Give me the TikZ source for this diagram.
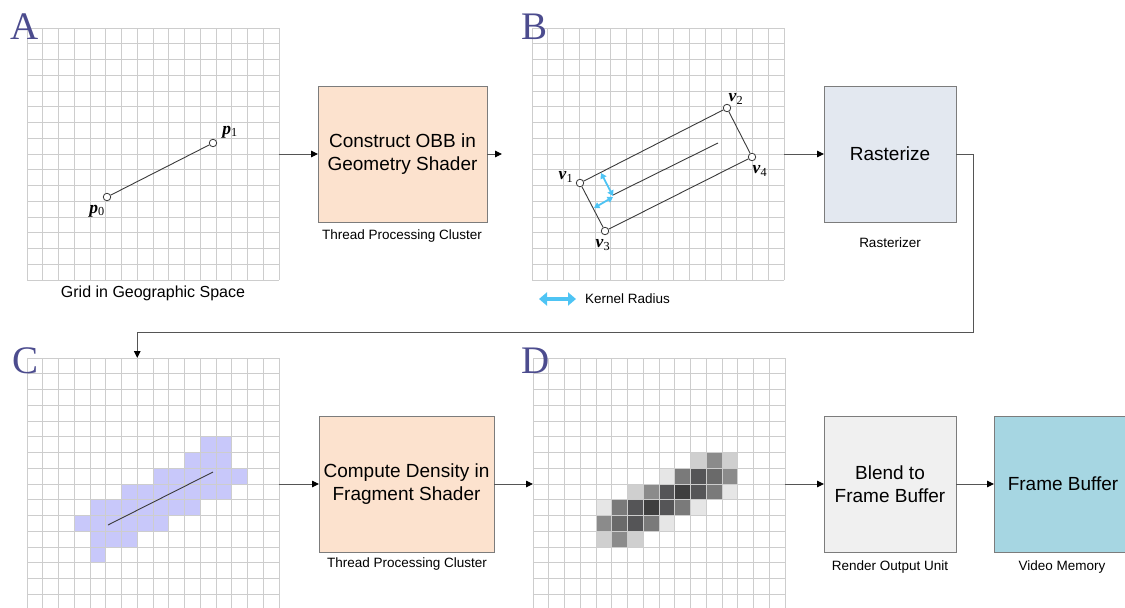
\documentclass[tikz,border=0pt]{standalone}
\usepackage{fontspec}
\setmainfont{Liberation Sans}
\newfontfamily\letterfont{Liberation Serif}
\usetikzlibrary{arrows.meta}

\definecolor{gridgray}{HTML}{CDCDCD}
\definecolor{boxborder}{HTML}{7C7C7C}
\definecolor{connline}{HTML}{555555}
\definecolor{linegray}{HTML}{3A3A3A}
\definecolor{peach}{HTML}{FCE2CE}
\definecolor{rastfill}{HTML}{E3E8F0}
\definecolor{blendfill}{HTML}{F0F0F0}
\definecolor{fbfill}{HTML}{A6D6E2}
\definecolor{purplecell}{HTML}{C8C8FA}
\definecolor{letterblue}{HTML}{4C4C8E}
\definecolor{kernelcyan}{HTML}{4EC4F4}
\definecolor{dA}{HTML}{E6E6E6}
\definecolor{dB}{HTML}{CFCFCF}
\definecolor{dC}{HTML}{8B8B8B}
\definecolor{dD}{HTML}{7A7A7A}
\definecolor{dE}{HTML}{6A6A6A}
\definecolor{dF}{HTML}{555557}
\definecolor{dG}{HTML}{3F3F3F}

% 16 x 16 cells of 15.75pt, drawn from the north-west corner of a panel node
\newcommand{\cellgrid}[1]{%
  \begin{scope}[shift={(#1.north west)}, x=15.75pt, y=-15.75pt]
    \foreach \i in {0,...,16} {
      \draw[gridline] (\i,0) -- (\i,16);
      \draw[gridline] (0,\i) -- (16,\i);
    }
  \end{scope}}
% fill a list of cells col/row/colour of a panel
\newcommand{\cellfill}[2]{%
  \begin{scope}[shift={(#1.north west)}, x=15.75pt, y=-15.75pt]
    \foreach \c/\r/\k in {#2} {
      \fill[\k] (\c,\r) rectangle ++(1,1);
    }
  \end{scope}}

\begin{document}
\begin{tikzpicture}[x=1pt, y=-1pt,
  panel/.style={minimum width=252pt, minimum height=252pt, inner sep=0pt, outer sep=0pt},
  gridline/.style={draw=gridgray, line width=0.9pt},
  stage/.style={draw=boxborder, line width=0.9pt, inner sep=0pt, outer sep=0pt,
    align=center, minimum height=136pt, font=\fontsize{19}{22.7}\selectfont},
  caption/.style={inner sep=0pt, font=\fontsize{13.5}{16}\selectfont},
  conn/.style={draw=connline, line width=0.9pt, -{Triangle[length=7pt, width=6.5pt, color=black]}},
  vertex/.style={circle, draw=linegray, fill=white, line width=0.8pt, minimum size=7.5pt, inner sep=0pt},
  seg/.style={draw=linegray, line width=0.9pt},
  ptlabel/.style={inner sep=0pt, font=\letterfont\fontsize{17.5}{20}\selectfont},
  panelletter/.style={inner sep=0pt, anchor=base west, text=letterblue,
    font=\letterfont\fontsize{39}{40}\selectfont},
  radius arrow/.style={draw=kernelcyan, line width=1.8pt,
    {Triangle[length=5.5pt, width=6.5pt]}-{Triangle[length=5.5pt, width=6.5pt]}},
  legend arrow/.style={draw=kernelcyan, line width=3.6pt,
    {Triangle[length=8pt, width=13pt]}-{Triangle[length=8pt, width=13pt]}}]

\useasboundingbox (0,0) rectangle (1125,608);
\clip (0,0) rectangle (1125,608);

% ---------- grid panels ----------
\node[panel] (gA) at (153,154) {};
\node[panel] (gB) at (658,154) {};
\node[panel] (gC) at (153,484) {};
\node[panel] (gD) at (659,484) {};

% rasterised footprint of the segment
\cellfill{gC}{11/5/purplecell, 12/5/purplecell,
  10/6/purplecell, 11/6/purplecell, 12/6/purplecell,
  8/7/purplecell, 9/7/purplecell, 10/7/purplecell, 11/7/purplecell, 12/7/purplecell, 13/7/purplecell,
  6/8/purplecell, 7/8/purplecell, 8/8/purplecell, 9/8/purplecell, 10/8/purplecell, 11/8/purplecell, 12/8/purplecell,
  4/9/purplecell, 5/9/purplecell, 6/9/purplecell, 7/9/purplecell, 8/9/purplecell, 9/9/purplecell, 10/9/purplecell,
  3/10/purplecell, 4/10/purplecell, 5/10/purplecell, 6/10/purplecell, 7/10/purplecell, 8/10/purplecell,
  4/11/purplecell, 5/11/purplecell, 6/11/purplecell,
  4/12/purplecell}

% density values after blending
\cellfill{gD}{10/6/dB, 11/6/dC, 12/6/dB,
  8/7/dA, 9/7/dD, 10/7/dF, 11/7/dE, 12/7/dC,
  6/8/dB, 7/8/dC, 8/8/dF, 9/8/dG, 10/8/dF, 11/8/dD, 12/8/dA,
  4/9/dA, 5/9/dD, 6/9/dF, 7/9/dG, 8/9/dF, 9/9/dD, 10/9/dA,
  4/10/dC, 5/10/dE, 6/10/dF, 7/10/dD, 8/10/dA,
  4/11/dB, 5/11/dC, 6/11/dB}

\cellgrid{gA}
\cellgrid{gB}
\cellgrid{gC}
\cellgrid{gD}

% ---------- panel letters ----------
\node[panelletter] (letA) at (10,39) {A};
\node[panelletter] (letB) at (521,39) {B};
\node[panelletter] (letC) at (12,373) {C};
\node[panelletter] (letD) at (521,373) {D};

% ---------- panel A: line segment ----------
\node[vertex] (p0) at (107,197) {};
\node[vertex] (p1) at (213,143) {};
\draw[seg] (p0) -- (p1);
\node[ptlabel] (lp0) at (97,211) {\textbf{\textit{p}}\textsubscript{0}};
\node[ptlabel] (lp1) at (230,132) {\textbf{\textit{p}}\textsubscript{1}};
\node[inner sep=0pt, font=\fontsize{16}{19}\selectfont] (capA) at (153,293) {Grid in Geographic Space};

% ---------- panel B: oriented bounding box ----------
\coordinate (q0) at (613,195);
\coordinate (q1) at (718,143);
\draw[seg] (q0) -- (q1);
\node[vertex] (v1) at (580,183) {};
\node[vertex] (v2) at (727,108) {};
\node[vertex] (v4) at (752,157) {};
\node[vertex] (v3) at (605,231) {};
\draw[seg] (v1) -- (v2) -- (v4) -- (v3) -- (v1);
\coordinate (k1) at (601,173);
\coordinate (k2) at (613,196);
\coordinate (k3) at (594,208);
\coordinate (k4) at (613,197);
\draw[radius arrow] (k1) -- (k2);
\draw[radius arrow] (k3) -- (k4);
\node[ptlabel] (lv1) at (566,177) {\textbf{\textit{v}}\textsubscript{1}};
\node[ptlabel] (lv2) at (736,99) {\textbf{\textit{v}}\textsubscript{2}};
\node[ptlabel] (lv4) at (760,171) {\textbf{\textit{v}}\textsubscript{4}};
\node[ptlabel] (lv3) at (603,245) {\textbf{\textit{v}}\textsubscript{3}};

% legend
\coordinate (leg1) at (539,299);
\coordinate (leg2) at (576,299);
\draw[legend arrow] (leg1) -- (leg2);
\node[caption, anchor=west] (legtext) at (585,299) {Kernel Radius};

% ---------- panel C: segment over its fragments ----------
\coordinate (r0) at (108,525);
\coordinate (r1) at (213,472);
\draw[seg] (r0) -- (r1);

% ---------- pipeline stages ----------
\node[stage, fill=peach, minimum width=169pt] (obb) at (402.5,154) {Construct OBB in\\Geometry Shader};
\node[caption] (obbcap) at (402,236) {Thread Processing Cluster};
\node[stage, fill=rastfill, minimum width=132pt] (rast) at (890,154) {Rasterize};
\node[caption] (rastcap) at (890,243) {Rasterizer};
\node[stage, fill=peach, minimum width=175pt] (comp) at (406.5,484) {Compute Density in\\Fragment Shader};
\node[caption] (compcap) at (407,564) {Thread Processing Cluster};
\node[stage, fill=blendfill, minimum width=132pt] (blend) at (890,484) {Blend to\\Frame Buffer};
\node[caption] (blendcap) at (890,567) {Render Output Unit};
\node[stage, fill=fbfill, minimum width=138pt] (fb) at (1063,484) {Frame Buffer};
\node[caption] (fbcap) at (1062,567) {Video Memory};

% ---------- connectors ----------
\coordinate (obbend) at (502,154);
\coordinate (turn) at (973,332);
\coordinate (cin) at ([xshift=-15.75pt]gC.north);
\draw[conn] (gA.east) -- (obb.west);
\draw[conn] (obb.east) -- (obbend);
\draw[conn] (gB.east) -- (rast.west);
\draw[conn] (rast.east) -| (turn) -| (cin);
\draw[conn] (gC.east) -- (comp.west);
\draw[conn] (comp.east) -- (gD.west);
\draw[conn] (gD.east) -- (blend.west);
\draw[conn] (blend.east) -- (fb.west);

\end{tikzpicture}
\end{document}
